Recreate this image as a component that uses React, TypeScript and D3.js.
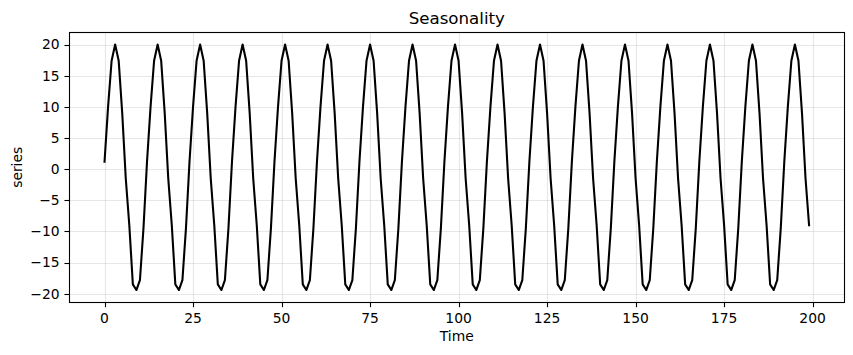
import React from "react";
import * as d3 from "d3";

const title = "Seasonality";
const xLabel = "Time";
const yLabel = "series";

const xTicks = [0, 25, 50, 75, 100, 125, 150, 175, 200];
const yTicks = [-20, -15, -10, -5, 0, 5, 10, 15, 20];

// seasonal component, t = 0 .. 199
const seriesValues = [
  1.2, 10.0, 17.4, 20.0, 17.4, 9.0, -1.5, -9.0, -18.5, -19.4, -17.8, -9.5,
  1.2, 10.0, 17.4, 20.0, 17.4, 9.0, -1.5, -9.0, -18.5, -19.4, -17.8, -9.5,
  1.2, 10.0, 17.4, 20.0, 17.4, 9.0, -1.5, -9.0, -18.5, -19.4, -17.8, -9.5,
  1.2, 10.0, 17.4, 20.0, 17.4, 9.0, -1.5, -9.0, -18.5, -19.4, -17.8, -9.5,
  1.2, 10.0, 17.4, 20.0, 17.4, 9.0, -1.5, -9.0, -18.5, -19.4, -17.8, -9.5,
  1.2, 10.0, 17.4, 20.0, 17.4, 9.0, -1.5, -9.0, -18.5, -19.4, -17.8, -9.5,
  1.2, 10.0, 17.4, 20.0, 17.4, 9.0, -1.5, -9.0, -18.5, -19.4, -17.8, -9.5,
  1.2, 10.0, 17.4, 20.0, 17.4, 9.0, -1.5, -9.0, -18.5, -19.4, -17.8, -9.5,
  1.2, 10.0, 17.4, 20.0, 17.4, 9.0, -1.5, -9.0, -18.5, -19.4, -17.8, -9.5,
  1.2, 10.0, 17.4, 20.0, 17.4, 9.0, -1.5, -9.0, -18.5, -19.4, -17.8, -9.5,
  1.2, 10.0, 17.4, 20.0, 17.4, 9.0, -1.5, -9.0, -18.5, -19.4, -17.8, -9.5,
  1.2, 10.0, 17.4, 20.0, 17.4, 9.0, -1.5, -9.0, -18.5, -19.4, -17.8, -9.5,
  1.2, 10.0, 17.4, 20.0, 17.4, 9.0, -1.5, -9.0, -18.5, -19.4, -17.8, -9.5,
  1.2, 10.0, 17.4, 20.0, 17.4, 9.0, -1.5, -9.0, -18.5, -19.4, -17.8, -9.5,
  1.2, 10.0, 17.4, 20.0, 17.4, 9.0, -1.5, -9.0, -18.5, -19.4, -17.8, -9.5,
  1.2, 10.0, 17.4, 20.0, 17.4, 9.0, -1.5, -9.0, -18.5, -19.4, -17.8, -9.5,
  1.2, 10.0, 17.4, 20.0, 17.4, 9.0, -1.5, -9.0,
];

const W = 853;
const H = 355;
const L = 69.3;
const R = 844.3;
const T = 32.3;
const B = 302.3;
const FONT = "DejaVu Sans, sans-serif";

const fmt = (v: number) => (v < 0 ? "\u2212" + Math.abs(v) : String(v));

export default function App() {
  const n = seriesValues.length;
  const xMin = 0;
  const xMax = n - 1;
  const xPad = (xMax - xMin) * 0.05;
  const yMinD = d3.min(seriesValues) as number;
  const yMaxD = d3.max(seriesValues) as number;
  const yPad = (yMaxD - yMinD) * 0.05;

  const x = d3.scaleLinear().domain([xMin - xPad, xMax + xPad]).range([L, R]);
  const y = d3.scaleLinear().domain([yMinD - yPad, yMaxD + yPad]).range([B, T]);

  const line = d3
    .line<number>()
    .x((_, i) => x(i))
    .y((d) => y(d));

  const snap = (v: number) => Math.round(v) + 0.5;

  return (
    <svg
      width={W}
      height={H}
      style={{ position: "absolute", left: 0, top: 0, background: "#fff" }}
      fontFamily={FONT}
    >
      <rect x={0} y={0} width={W} height={H} fill="#fff" />
      {/* grid */}
      <g stroke="#b0b0b0" strokeOpacity={0.3} strokeWidth={1.1}>
        {xTicks.map((t) => (
          <line key={"gx" + t} x1={snap(x(t))} x2={snap(x(t))} y1={T} y2={B} />
        ))}
        {yTicks.map((t) => (
          <line key={"gy" + t} x1={L} x2={R} y1={snap(y(t))} y2={snap(y(t))} />
        ))}
      </g>
      {/* series */}
      <path
        d={line(seriesValues) || ""}
        fill="none"
        stroke="#000"
        strokeWidth={2.08}
        strokeLinejoin="round"
        strokeLinecap="square"
      />
      {/* spines */}
      <rect
        x={snap(L)}
        y={snap(T)}
        width={Math.round(R) - Math.round(L)}
        height={Math.round(B) - Math.round(T)}
        fill="none"
        stroke="#000"
        strokeWidth={1.1}
      />
      {/* x ticks */}
      <g>
        {xTicks.map((t) => (
          <g key={"xt" + t}>
            <line x1={snap(x(t))} x2={snap(x(t))} y1={B} y2={B + 4.86} stroke="#000" strokeWidth={1.1} />
            <text x={x(t)} y={B + 9.7 + 10.6} fontSize={13.89} textAnchor="middle" fill="#000">
              {fmt(t)}
            </text>
          </g>
        ))}
      </g>
      {/* y ticks */}
      <g>
        {yTicks.map((t) => (
          <g key={"yt" + t}>
            <line x1={L - 4.86} x2={L} y1={snap(y(t))} y2={snap(y(t))} stroke="#000" strokeWidth={1.1} />
            <text x={L - 9.7} y={y(t)} dy="0.35em" fontSize={13.89} textAnchor="end" fill="#000">
              {fmt(t)}
            </text>
          </g>
        ))}
      </g>
      {/* labels */}
      <text x={(L + R) / 2} y={T - 8.33} fontSize={16.67} textAnchor="middle" fill="#000">
        {title}
      </text>
      <text x={(L + R) / 2} y={341} fontSize={13.89} textAnchor="middle" fill="#000">
        {xLabel}
      </text>
      <text
        transform={`translate(${22},${(T + B) / 2}) rotate(-90)`}
        fontSize={13.89}
        textAnchor="middle"
        fill="#000"
      >
        {yLabel}
      </text>
    </svg>
  );
}
